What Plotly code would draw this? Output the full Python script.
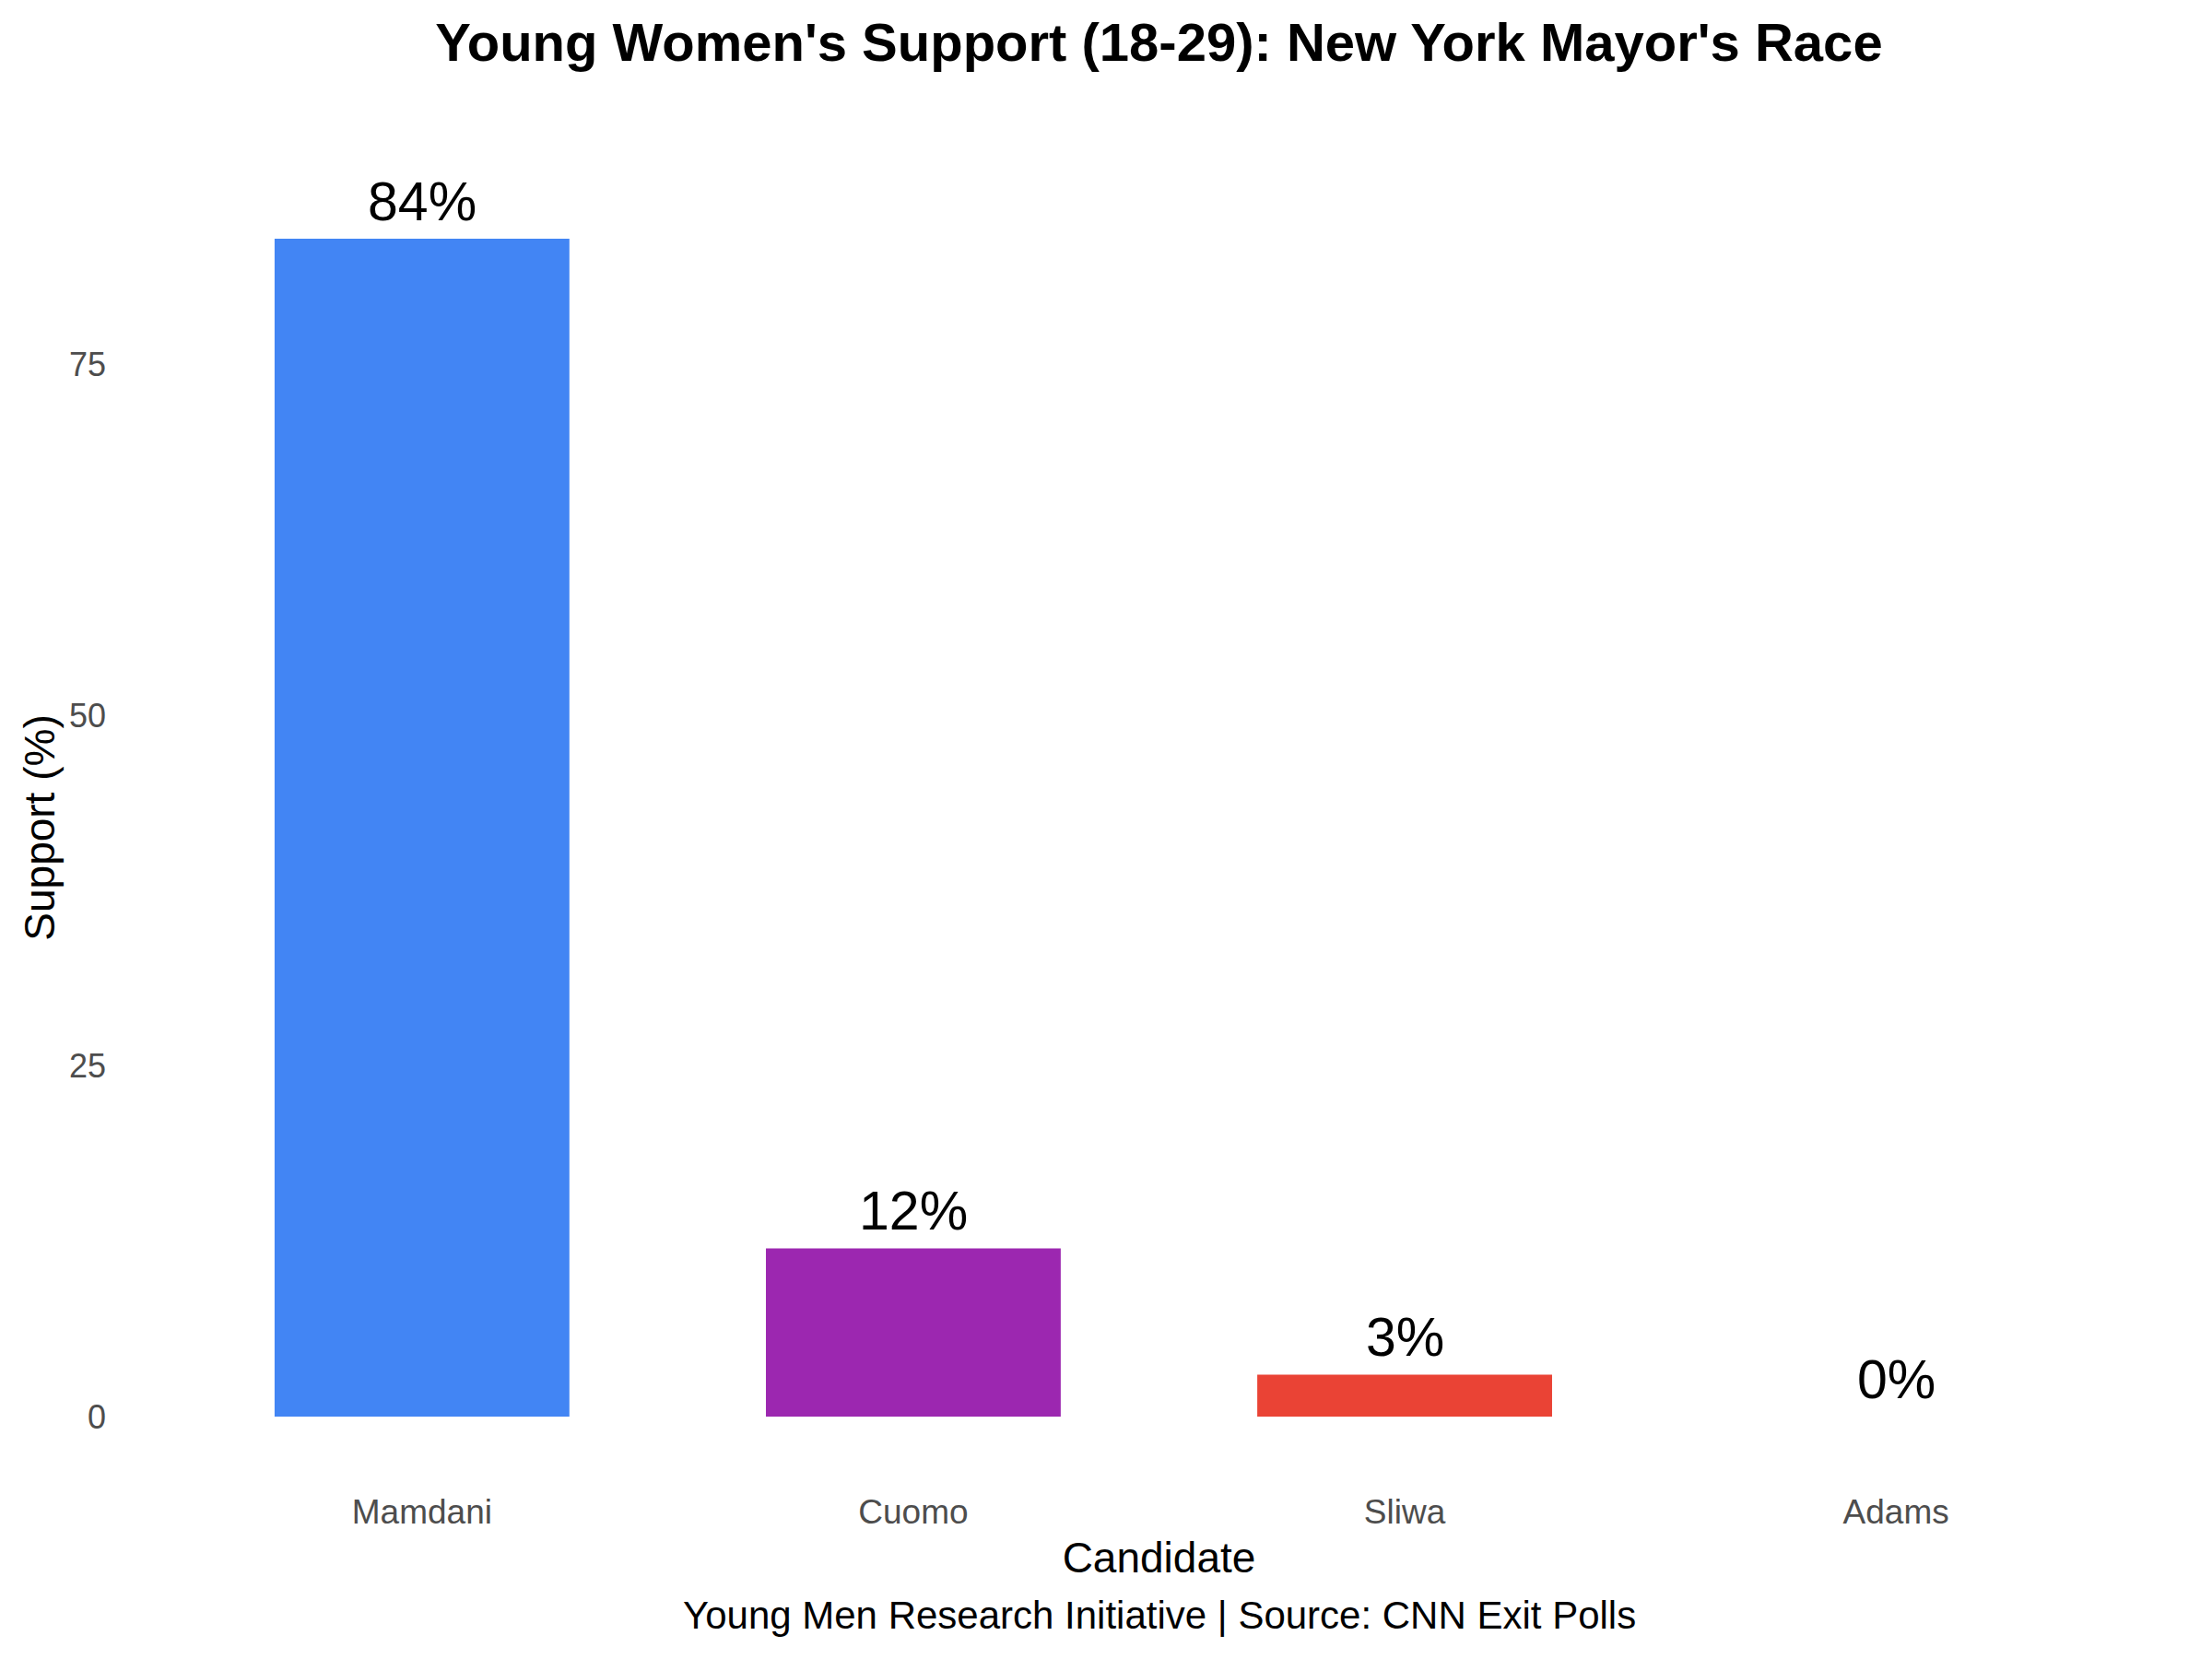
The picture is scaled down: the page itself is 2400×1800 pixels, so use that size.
import plotly.graph_objects as go

candidates = ["Mamdani", "Cuomo", "Sliwa", "Adams"]
support = [84, 12, 3, 0]
bar_colors = ["#4285F4", "#9C27B0", "#EA4335", "#34A853"]
labels = [f"{v}%" for v in support]
y_ticks = [0, 25, 50, 75]

FONT = "Liberation Sans, Arial, Helvetica, sans-serif"

fig = go.Figure()
fig.add_trace(go.Bar(
    x=candidates, y=support, marker=dict(color=bar_colors, line=dict(width=0)),
    width=0.6, showlegend=False, hoverinfo="x+y",
))

for c, v, t in zip(candidates, support, labels):
    fig.add_annotation(x=c, y=v, text=t, showarrow=False, yanchor="bottom",
                       yshift=5, font=dict(family=FONT, size=59, color="black"))

fig.add_annotation(x=0.5, y=-0.1074, xref="paper", yref="paper",
                   text="Young Men Research Initiative | Source: CNN Exit Polls",
                   showarrow=False, yanchor="middle", xanchor="center",
                   font=dict(family=FONT, size=42, color="black"))

fig.update_layout(
    width=2400, height=1800,
    margin=dict(l=138, r=23, t=195, b=199),
    paper_bgcolor="white", plot_bgcolor="white",
    font=dict(family=FONT),
    title=dict(text="<b>Young Women's Support (18-29): New York Mayor's Race</b>",
               x=0.5, xref="paper", xanchor="center",
               y=1 - 46 / 1800, yref="container", yanchor="middle",
               font=dict(family=FONT, size=58, color="black")),
    xaxis=dict(
        range=[-0.6, 3.6], showgrid=False, zeroline=False, showline=False,
        ticks="", tickfont=dict(family=FONT, size=37, color="#4D4D4D"),
        ticklabelstandoff=14,
        title=dict(text="Candidate", standoff=13,
                   font=dict(family=FONT, size=46, color="black")),
    ),
    yaxis=dict(
        range=[-4.2, 88.2], showgrid=False, zeroline=False, showline=False,
        tickvals=y_ticks, ticks="",
        tickfont=dict(family=FONT, size=36, color="#4D4D4D"),
        ticklabelstandoff=22,
        title=dict(text="Support (%)", standoff=0,
                   font=dict(family=FONT, size=46, color="black")),
    ),
    bargap=0.4,
)

fig.write_html("out.html", config={"displayModeBar": False},
               post_script="document.body.style.margin='0';")
